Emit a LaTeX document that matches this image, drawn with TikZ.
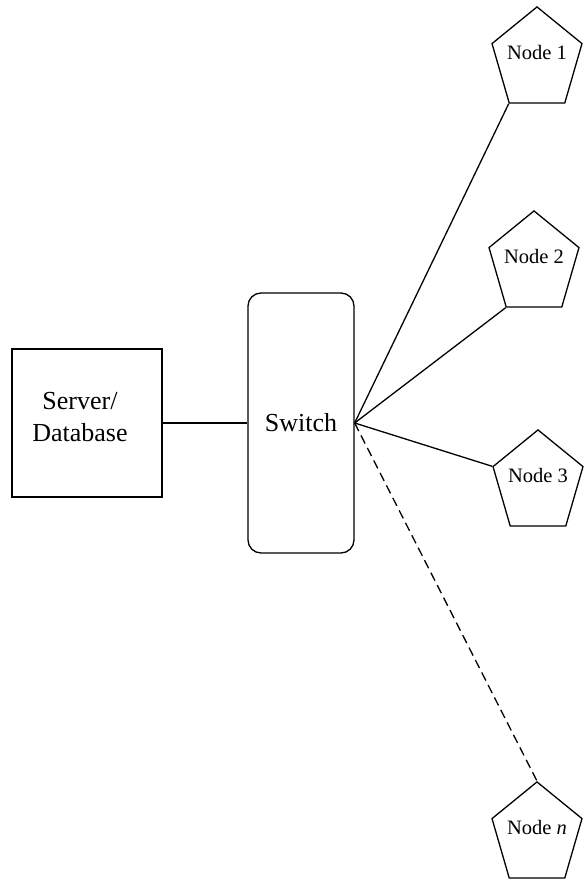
\documentclass[tikz,border=0pt]{standalone}
\usepackage{fontspec}
\setmainfont{Liberation Serif}
\usepackage{graphicx}
\usetikzlibrary{positioning,shapes.geometric}
\newcommand{\pentext}[1]{\makebox[0pt]{\raisebox{0pt}[0pt][0pt]{\scalebox{1}[0.89]{#1}}}}
\tikzset{
    base/.style={font=\fontsize{26}{31.5}\selectfont, align=center},
    server/.style={base, rectangle, draw, line width=1.3pt, inner sep=0pt,
                   minimum width=150pt, minimum height=148pt, text depth=12pt},
    switchbox/.style={base, rectangle, rounded corners=13pt, draw, line width=1.3pt,
                      inner sep=0pt, minimum width=106pt, minimum height=260pt},
    pent/.style={shape=regular polygon, regular polygon sides=5, draw, line width=1.3pt,
                 inner sep=0pt, minimum size=94.6pt,
                 yscale=1.122, transform shape,
                 font=\fontsize{20.5}{24}\selectfont},
    link/.style={line width=1.3pt},
    faint/.style={link, dash pattern=on 9pt off 5pt}
}

\begin{document}
\begin{tikzpicture}[x=1pt, y=1pt]
  \useasboundingbox (0,0) rectangle (584,879);

  % server and switch
  \node[server] (server) at (87,456) {Server/\kern14pt\\Database\kern14pt};
  \node[switchbox] (switch) at (301,456) {Switch};

  % pentagon centres
  \coordinate (c1) at (537,819);
  \coordinate (c2) at (534,615);
  \coordinate (c3) at (538,396);
  \coordinate (cn) at (537,44);

  \node[pent] (node1) at (c1) {\pentext{Node 1}};
  \node[pent] (node2) at (c2) {\pentext{Node 2}};
  \node[pent] (node3) at (c3) {\pentext{Node 3}};
  \node[pent] (noden) at (cn) {\pentext{Node \textit{n}}};

  % links
  \draw[link] (server) -- (switch);
  \draw[link] (switch.east) -- (node1.corner 3);
  \draw[link] (switch.east) -- (node2.corner 3);
  \draw[link] (switch.east) -- (node3.corner 2);
  \draw[faint] (switch.east) -- (noden.corner 1);
\end{tikzpicture}
\end{document}
